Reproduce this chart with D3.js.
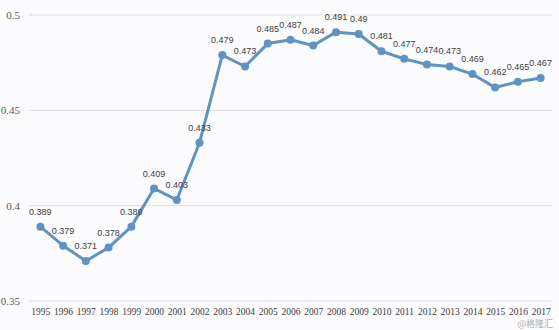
<!DOCTYPE html>
<html><head><meta charset="utf-8">
<script src="https://cdn.jsdelivr.net/npm/d3@7"></script>
<style>body{margin:0;background:#fcfbfd}</style>
</head><body>
<svg id="c" width="559" height="330"></svg>
<script>
const years = ["1995","1996","1997","1998","1999","2000","2001","2002","2003","2004","2005","2006","2007","2008","2009","2010","2011","2012","2013","2014","2015","2016","2017"];
const values = [0.389,0.379,0.371,0.378,0.389,0.409,0.403,0.433,0.479,0.473,0.485,0.487,0.484,0.491,0.49,0.481,0.477,0.474,0.473,0.469,0.462,0.465,0.467];
const yTicks = [0.35,0.4,0.45,0.5];

const svg = d3.select("#c");
svg.append("rect").attr("width",559).attr("height",330).attr("fill","#fcfbfd");
const x = d3.scalePoint().domain(years).range([29,552]).padding(0.5);
const y = d3.scaleLinear().domain([0.35,0.5]).range([301,15]);

const grid = svg.append("g");
grid.selectAll("line").data(yTicks).join("line")
  .attr("x1",29).attr("x2",552).attr("y1",d=>y(d)).attr("y2",d=>y(d))
  .attr("stroke","#dcdcdc").attr("stroke-width",1);

const yAxis = svg.append("g").attr("transform","translate(25,0)")
  .call(d3.axisLeft(y).tickValues(yTicks).tickFormat(d=>String(+d.toFixed(2))).tickSize(0).tickPadding(5));
yAxis.select(".domain").remove();
yAxis.selectAll("text").attr("font-family","'Liberation Serif','DejaVu Serif',serif").attr("font-size",11).attr("fill","#595959");

const xAxis = svg.append("g").attr("transform","translate(0,301)")
  .call(d3.axisBottom(x).tickSize(0).tickPadding(7));
xAxis.select(".domain").remove();
xAxis.selectAll("text").attr("font-family","'Liberation Serif','DejaVu Serif',serif").attr("font-size",9.5).attr("fill","#404040");

const color = "#5f93c4";
svg.append("path").datum(values)
  .attr("d", d3.line().x((d,i)=>x(years[i])).y(d=>y(d)))
  .attr("fill","none").attr("stroke",color).attr("stroke-width",3).attr("stroke-linejoin","round");

svg.selectAll("circle.pt").data(values).join("circle").attr("class","pt")
  .attr("cx",(d,i)=>x(years[i])).attr("cy",d=>y(d)).attr("r",4).attr("fill",color);

svg.selectAll("text.lbl").data(values).join("text").attr("class","lbl")
  .attr("x",(d,i)=>x(years[i])).attr("y",d=>y(d)-12)
  .attr("text-anchor","middle")
  .attr("font-family","'Liberation Sans','DejaVu Sans',sans-serif").attr("font-size",9).attr("fill","#404040")
  .text(d=>String(d));

svg.append("text").attr("x",553).attr("y",326.5).attr("text-anchor","end")
  .attr("font-family","'Noto Sans CJK SC',sans-serif").attr("font-size",9).attr("fill","#9a9a9a").attr("opacity",0.8)
  .text("@格隆汇");
</script>
</body></html>
